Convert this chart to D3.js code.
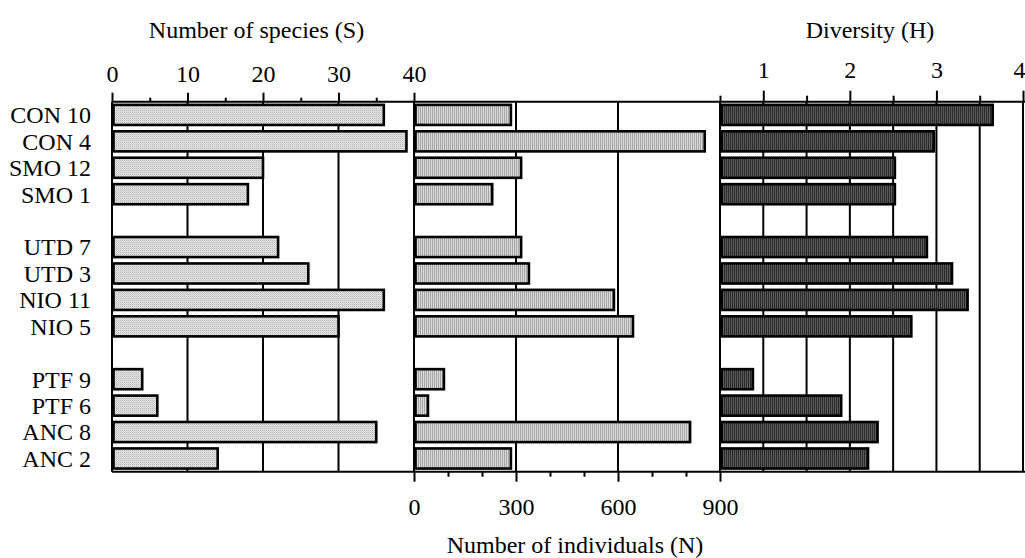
<!DOCTYPE html>
<html>
<head>
<meta charset="utf-8">
<script src="https://cdn.jsdelivr.net/npm/d3@7"></script>
<style>
  html, body { margin: 0; padding: 0; background: #fff; }
  svg { display: block; }
  text { font-family: "Liberation Serif", "Times New Roman", serif; fill: #000; }
</style>
</head>
<body>
<script>
// Station labels, in display order (groups of four, separated by a blank row)
const categories = ["CON 10", "CON 4", "SMO 12", "SMO 1",
                    "UTD 7", "UTD 3", "NIO 11", "NIO 5",
                    "PTF 9", "PTF 6", "ANC 8", "ANC 2"];
const groupSize = 4;

// Number of species (S)
const speciesS = [36, 39, 20, 18, 22, 26, 36, 30, 4, 6, 35, 14];
// Number of individuals (N)
const individualsN = [285, 855, 315, 230, 315, 338, 588, 644, 88, 41, 812, 285];
// Shannon diversity (H)
const diversityH = [3.65, 2.97, 2.52, 2.52, 2.89, 3.18, 3.36, 2.71, 0.88, 1.90, 2.32, 2.21];

// Tick labels
const speciesTicks = [0, 10, 20, 30, 40];
const speciesMinor = [5, 15, 25, 35];
const individualsTicks = [0, 300, 600, 900];
const individualsMinor = [100, 200, 400, 500, 700, 800];
const diversityTicks = [1, 2, 3, 4];
const diversityMinor = [0.5, 1.5, 2.5, 3.5];

const W = 1025, H = 558;
const plotTop = 101.7, plotBottom = 471.7;
const fontSize = "24px";

const svg = d3.select("body").append("svg").attr("width", W).attr("height", H);

// Fill textures
const defs = svg.append("defs");
const dots = defs.append("pattern").attr("id", "dots").attr("patternUnits", "userSpaceOnUse")
  .attr("width", 2).attr("height", 2);
dots.append("rect").attr("width", 2).attr("height", 2).attr("fill", "#e6e6e6");
dots.append("rect").attr("width", 1).attr("height", 1).attr("fill", "#b4b4b4");
dots.append("rect").attr("x", 1).attr("y", 1).attr("width", 1).attr("height", 1).attr("fill", "#cfcfcf");

const stripes = defs.append("pattern").attr("id", "stripes").attr("patternUnits", "userSpaceOnUse")
  .attr("width", 2).attr("height", 2);
stripes.append("rect").attr("width", 2).attr("height", 2).attr("fill", "#dadada");
stripes.append("rect").attr("width", 1).attr("height", 2).attr("fill", "#a6a6a6");

const darkStripes = defs.append("pattern").attr("id", "darkStripes").attr("patternUnits", "userSpaceOnUse")
  .attr("width", 2).attr("height", 2);
darkStripes.append("rect").attr("width", 2).attr("height", 2).attr("fill", "#5a5a5a");
darkStripes.append("rect").attr("width", 1).attr("height", 2).attr("fill", "#2a2a2a");

// Rows: categories with a spacer after each group
const rows = [];
categories.forEach((c, i) => {
  if (i > 0 && i % groupSize === 0) rows.push("gap" + i);
  rows.push(c);
});

const y = d3.scaleBand().domain(rows).range([plotTop, plotBottom]).paddingInner(0.24).paddingOuter(0.12);

const xS = d3.scaleLinear().domain([0, 40]).range([112, 414]);
const xN = d3.scaleLinear().domain([0, 900]).range([414, 720]);
const xH = d3.scaleLinear().domain([0.5, 4]).range([720, 1023]);

// Gridlines
const grid = svg.append("g").attr("stroke", "#000").attr("stroke-width", 2);
[10, 20, 30].forEach(v => grid.append("line").attr("x1", xS(v)).attr("x2", xS(v)).attr("y1", plotTop).attr("y2", plotBottom));
[300, 600].forEach(v => grid.append("line").attr("x1", xN(v)).attr("x2", xN(v)).attr("y1", plotTop).attr("y2", plotBottom));
[1, 1.5, 2, 2.5, 3, 3.5, 4].forEach(v => grid.append("line").attr("x1", xH(v)).attr("x2", xH(v)).attr("y1", plotTop).attr("y2", plotBottom));

// Bars
function drawBars(values, x, fill) {
  const x0 = x(x.domain()[0]);
  svg.append("g").selectAll("rect").data(values).join("rect")
    .attr("x", x0 + 1.5)
    .attr("y", (d, i) => y(categories[i]))
    .attr("width", d => x(d) - x0 - 1.5)
    .attr("height", y.bandwidth())
    .attr("fill", `url(#${fill})`)
    .attr("stroke", "#000")
    .attr("stroke-width", 2.6);
}
drawBars(speciesS, xS, "dots");
drawBars(individualsN, xN, "stripes");
drawBars(diversityH, xH, "darkStripes");

// Frame lines
const frame = svg.append("g").attr("stroke", "#000").attr("stroke-width", 2).attr("fill", "none");
frame.append("line").attr("x1", 112).attr("x2", 1025).attr("y1", plotTop).attr("y2", plotTop);
frame.append("line").attr("x1", 112).attr("x2", 1025).attr("y1", plotBottom).attr("y2", plotBottom);
[112, 414, 720].forEach(x0 => frame.append("line").attr("x1", x0).attr("x2", x0).attr("y1", plotTop).attr("y2", plotBottom));

// Axes
function styleAxis(g) {
  g.select(".domain").remove();
  g.selectAll(".tick line").attr("stroke", "#000").attr("stroke-width", 2);
  g.selectAll(".tick text").style("font-size", fontSize).attr("fill", "#000")
    .style("font-family", '"Liberation Serif", "Times New Roman", serif');
}

svg.append("g").attr("transform", `translate(0,${plotTop})`)
  .call(d3.axisTop(xS).tickValues(speciesTicks).tickFormat(d3.format("d")).tickSize(9).tickPadding(11))
  .call(styleAxis);
svg.append("g").attr("transform", `translate(0,${plotTop})`)
  .call(d3.axisTop(xS).tickValues(speciesMinor).tickFormat("").tickSize(4))
  .call(styleAxis);

const hAxis = svg.append("g").attr("transform", `translate(0,${plotTop})`)
  .call(d3.axisTop(xH).tickValues(diversityTicks).tickFormat(d3.format("d")).tickSize(11).tickPadding(12.4))
  .call(styleAxis);
// keep the last label inside the page edge
hAxis.selectAll(".tick text").filter(d => d === 4).attr("text-anchor", "end").attr("x", 2);
svg.append("g").attr("transform", `translate(0,${plotTop})`)
  .call(d3.axisTop(xH).tickValues(diversityMinor).tickFormat("").tickSize(6))
  .call(styleAxis);

svg.append("g").attr("transform", `translate(0,${plotBottom})`)
  .call(d3.axisBottom(xN).tickValues(individualsTicks).tickFormat(d3.format("d")).tickSize(10).tickPadding(16.5))
  .call(styleAxis);
svg.append("g").attr("transform", `translate(0,${plotBottom})`)
  .call(d3.axisBottom(xN).tickValues(individualsMinor).tickFormat("").tickSize(5))
  .call(styleAxis);

// Category labels
svg.append("g").selectAll("text").data(categories).join("text")
  .attr("x", 91)
  .attr("y", d => y(d) + y.bandwidth() / 2)
  .attr("dy", "0.35em")
  .attr("text-anchor", "end")
  .style("font-size", fontSize)
  .text(d => d);

// Axis titles
svg.append("text").attr("x", 256.5).attr("y", 38).attr("text-anchor", "middle")
  .style("font-size", fontSize).text("Number of species (S)");
svg.append("text").attr("x", 870).attr("y", 38).attr("text-anchor", "middle")
  .style("font-size", fontSize).text("Diversity (H)");
svg.append("text").attr("x", 575).attr("y", 553).attr("text-anchor", "middle")
  .style("font-size", fontSize).text("Number of individuals (N)");
</script>
</body>
</html>
